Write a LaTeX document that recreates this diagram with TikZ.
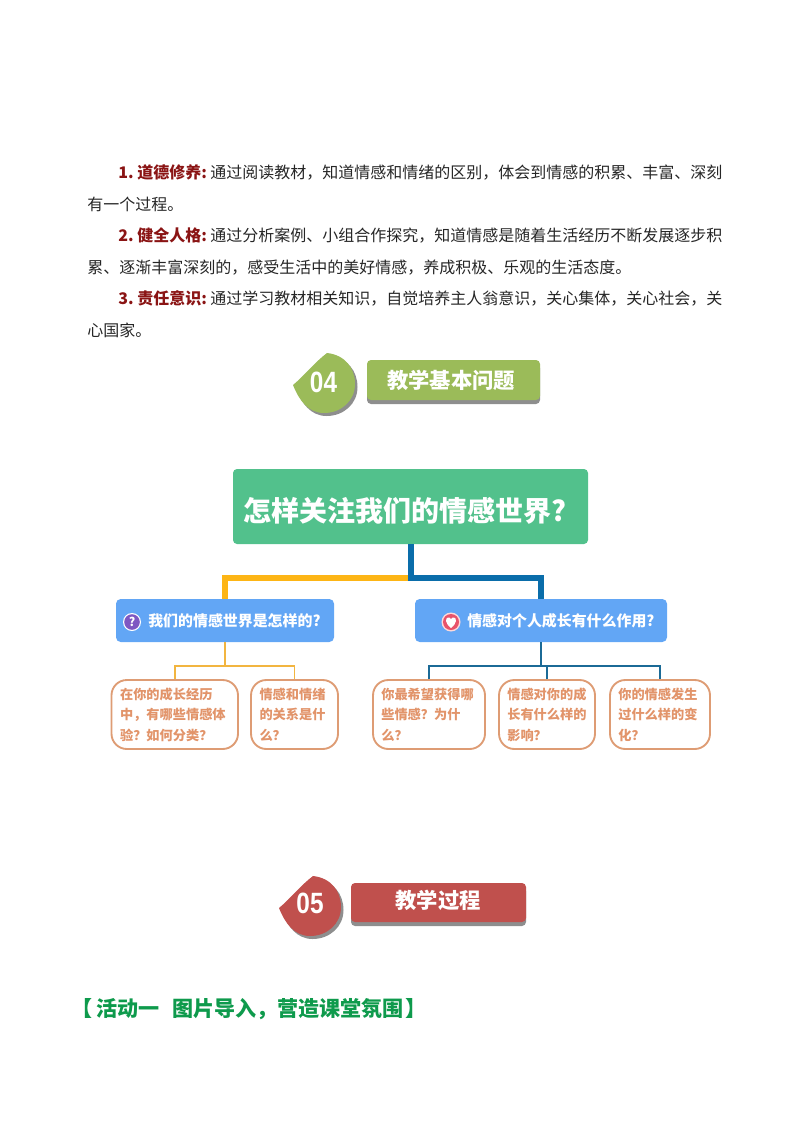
\documentclass[tikz,border=0pt]{standalone}
\usepackage{fontspec}
\setmainfont{Noto Sans CJK SC}
\newfontfamily\numfont{Liberation Sans}
\definecolor{bodyc}{HTML}{262626}
\definecolor{labelc}{HTML}{8A1414}
\definecolor{greenb}{HTML}{9BBB59}
\definecolor{redb}{HTML}{C0504D}
\definecolor{shadowc}{HTML}{8E8E8E}
\definecolor{rootc}{HTML}{52C18C}
\definecolor{qc}{HTML}{62A6F5}
\definecolor{yel}{HTML}{FDB515}
\definecolor{blu}{HTML}{0A6DAA}
\definecolor{yel2}{HTML}{F2B540}
\definecolor{blu2}{HTML}{1B6A96}
\definecolor{leafb}{HTML}{DE9C74}
\definecolor{leaft}{HTML}{E2946A}
\definecolor{actc}{HTML}{0E9A4C}
\definecolor{purp}{HTML}{7E57C2}
\definecolor{heartc}{HTML}{E8536B}
\newcommand{\badgepath}[1]{%
  \fill[#1] (0,1) .. controls (12,-9) and (22,-22) .. (34,-31)
    .. controls (52,-29) and (62,-16) .. (62,0)
    .. controls (62,17) and (48,29) .. (31,29)
    .. controls (15,29) and (6,16) .. (0,1) -- cycle;}
\tikzset{
  x=0.75pt,y=-0.75pt,
  bodyt/.style={anchor=base west,inner sep=0pt,text=bodyc,font=\fontsize{12pt}{12pt}\selectfont},
  labelt/.style={anchor=base west,inner sep=0pt,text=labelc,font=\fontsize{12pt}{12pt}\selectfont\bfseries},
  headt/.style={inner sep=0pt,text=white,font=\fontsize{16pt}{16pt}\selectfont\bfseries},
  numt/.style={inner sep=0pt,text=white,font=\fontsize{22pt}{22pt}\selectfont\numfont\bfseries},
  rootn/.style={fill=rootc,rounded corners=3pt,minimum width=266.25pt,minimum height=56.25pt,inner sep=0pt},
  qn/.style={fill=qc,rounded corners=3.5pt,minimum height=32.25pt,inner sep=0pt},
  leaf/.style={draw=leafb,line width=1.4pt,fill=white,rounded corners=11.5pt,minimum height=51.75pt,
    inner xsep=6pt,inner ysep=0pt,align=left,text=leaft,
    font=\fontsize{9.9pt}{15.4pt}\selectfont\bfseries},
  qt/.style={inner sep=0pt,anchor=west,text=white,font=\fontsize{11.2pt}{11.2pt}\selectfont\bfseries},
  big/.style={line width=4.5pt},
  small/.style={line width=1.3pt},
}
\begin{document}
\begin{tikzpicture}
\useasboundingbox (0,0) rectangle (794,1123);
% body text
\node[labelt] (l1) at (118,179) {\makebox[14.25pt][l]{1.}道德修养:};
\node[bodyt] (t1) at (210,179) {通过阅读教材，知道情感和情绪的区别，体会到情感的积累、丰富、深刻};
\node[bodyt] (t1b) at (87,210) {有一个过程。};
\node[labelt] (l2) at (118,242) {\makebox[14.25pt][l]{2.}健全人格:};
\node[bodyt] (t2) at (210,242) {通过分析案例、小组合作探究，知道情感是随着生活经历不断发展逐步积};
\node[bodyt] (t2b) at (87,273) {累、逐渐丰富深刻的，感受生活中的美好情感，养成积极、乐观的生活态度。};
\node[labelt] (l3) at (118,304) {\makebox[14.25pt][l]{3.}责任意识:};
\node[bodyt] (t3) at (210,304) {通过学习教材相关知识，自觉培养主人翁意识，关心集体，关心社会，关};
\node[bodyt] (t3b) at (87,336) {心国家。};
% heading 04
\begin{scope}[shift={(293,384)}]
  \begin{scope}[shift={(2.5,3)}]\badgepath{shadowc}\end{scope}
  \badgepath{greenb}
\end{scope}
\node[numt] (n04) at (323.5,382) {\scalebox{0.83}[1]{04}};
\fill[shadowc,rounded corners=3pt] (367,364) rectangle (540,404);
\fill[greenb,rounded corners=3pt] (367,360) rectangle (540,400);
\node[headt] (h04) at (451,380) {教学基本问题};
% mind map
\node[rootn] (root) at (410.5,506.5) {};
\node[anchor=base west,inner sep=0pt,text=white,font=\fontsize{21pt}{21pt}\selectfont\bfseries] (roott) at (243,521) {怎样关注我们的情感世界?};
\node[qn,minimum width=163.5pt] (q1) at (225,620.5) {};
\node[qn,minimum width=189pt] (q2) at (541,620.5) {};
\coordinate (j) at (410.5,578);
\coordinate (j1) at (225,666);
\coordinate (j2) at (541,666);
\draw[yel,big] (j) -| (q1.north);
\draw[blu,big] (root.south) -- (j) -| (q2.north);
\fill[white] (132,622) circle[radius=9];
\fill[purp] (132,622) circle[radius=7.8];
\node[inner sep=0pt,text=white,font=\fontsize{9pt}{9pt}\selectfont\bfseries] (qm) at (132,622) {?};
\node[qt] (q1t) at (148,621) {我们的情感世界是怎样的?};
\fill[white!85!red] (451,622) circle[radius=9.5];
\fill[heartc] (451,622) circle[radius=8];
\fill[white] (451,628) .. controls (445,623.5) and (445,618) .. (448,617.5) .. controls (449.5,617.2) and (450.6,618) .. (451,619.3) .. controls (451.4,618) and (452.5,617.2) .. (454,617.5) .. controls (457,618) and (457,623.5) .. (451,628) -- cycle;
\node[qt] (q2t) at (467,621) {情感对个人成长有什么作用?};
% leaves
\node[leaf,minimum width=94.9pt,text width=82pt] (a1) at (174.75,714.5) {在你的成长经历\\中，有哪些情感体\\验？如何分类？};
\node[leaf,minimum width=65.25pt,text width=52.5pt] (a2) at (294.5,714.5) {情感和情绪\\的关系是什\\么？};
\node[leaf,minimum width=84pt,text width=71.5pt] (a3) at (429,714.5) {你最希望获得哪\\些情感？为什\\么？};
\node[leaf,minimum width=72pt,text width=59.5pt] (a4) at (547,714.5) {情感对你的成\\长有什么样的\\影响？};
\node[leaf,minimum width=75pt,text width=62.5pt] (a5) at (660,714.5) {你的情感发生\\过什么样的变\\化？};
\draw[yel2,small] (q1.south) -- (j1);
\draw[yel2,small] (a1.north) |- (j1) -| (a2.north);
\draw[blu2,small] (q2.south) -- (j2);
\draw[blu2,small] (a3.north) |- (j2) -| (a5.north);
\draw[blu2,small] (a4.north) -- (a4.north |- j2);
% heading 05
\begin{scope}[shift={(279,907)}]
  \begin{scope}[shift={(2.5,3)}]\badgepath{shadowc}\end{scope}
  \badgepath{redb}
\end{scope}
\node[numt] (n05) at (310,903) {\scalebox{0.83}[1]{05}};
\fill[shadowc,rounded corners=3pt] (351,887) rectangle (526,926);
\fill[redb,rounded corners=3pt] (351,883) rectangle (526,922);
\node[headt] (h05) at (438,900) {教学过程};
% activity
\node[anchor=base west,inner sep=0pt,text=actc,font=\fontsize{15.8pt}{15.8pt}\selectfont\bfseries] (act) at (71,1016) {【\hspace{3pt}活动一\hspace{9.5pt}图片导入，营造课堂氛围\hspace{1pt}】};
\end{tikzpicture}
\end{document}
